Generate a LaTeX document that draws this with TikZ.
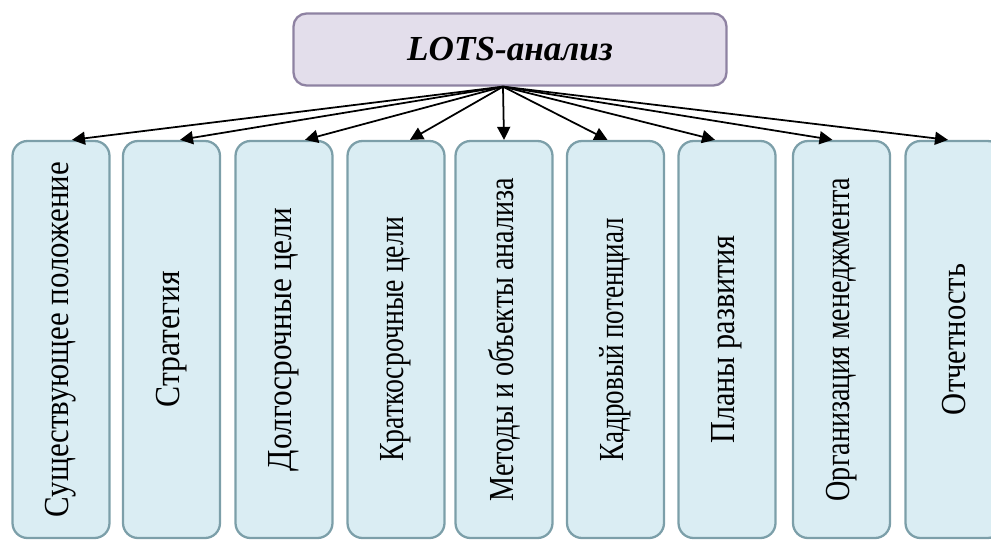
\documentclass[tikz,border=0pt]{standalone}
\usepackage{fontspec}
\setmainfont{Liberation Serif}
\usepackage{tikz}
\usetikzlibrary{positioning,arrows.meta}

\definecolor{rootfill}{HTML}{E3DEEB}
\definecolor{rootline}{HTML}{8E82A2}
\definecolor{partfill}{HTML}{DAEDF3}
\definecolor{partline}{HTML}{7C9FA9}

% condensed caption along the reading direction
\newcommand{\cond}[2]{\scalebox{#1}[1]{#2}}

\begin{document}
\begin{tikzpicture}[
        every node/.style={draw, line width=1.3pt, inner sep=0pt},
        root/.style={fill=rootfill, draw=rootline, rounded corners=0.26cm,
          minimum width=8.66cm, minimum height=1.44cm,
          font=\fontsize{20}{24}\selectfont\bfseries\itshape},
        part/.style={fill=partfill, draw=partline, rounded corners=0.3cm,
          rotate=90, minimum width=7.94cm, minimum height=1.94cm,
          font=\fontsize{20}{24}\selectfont},
        arrow/.style={-{Triangle[length=0.26cm, width=0.26cm]}, line width=1pt}]

  \useasboundingbox (0,0) rectangle (19.82,-10.82);

  %%% Root of the scheme
  \node[root] (lots) at (10.2,-0.99) {LOTS-анализ};

  %%% Components, one rotated box each (east anchor = top edge)
  \node[part] (state)   at (1.22,-6.79)  {\cond{0.88}{Существующее положение}};
  \node[part] (strat)   at (3.43,-6.79)  {\cond{0.9}{Стратегия}};
  \node[part] (longg)   at (5.68,-6.79)  {\cond{0.89}{Долгосрочные цели}};
  \node[part] (shortg)  at (7.92,-6.79)  {\cond{0.79}{Краткосрочные цели}};
  \node[part] (methods) at (10.08,-6.79) {\cond{0.8}{Методы и объекты анализа}};
  \node[part] (staff)   at (12.31,-6.79) {\cond{0.77}{Кадровый потенциал}};
  \node[part] (plans)   at (14.54,-6.79) {\cond{0.86}{Планы развития}};
  \node[part] (manage)  at (16.83,-6.79) {\cond{0.8}{Организация менеджмента}};
  \node[part] (report)  at (19.08,-6.79) {\cond{0.87}{Отчетность}};

  %%% Arrows from the root to every component
  \draw[arrow] ([xshift=-0.14cm]lots.south) -- ([xshift=0.22cm]state.east);
  \draw[arrow] ([xshift=-0.14cm]lots.south) -- ([xshift=0.17cm]strat.east);
  \draw[arrow] ([xshift=-0.14cm]lots.south) -- ([xshift=0.42cm]longg.east);
  \draw[arrow] ([xshift=-0.14cm]lots.south) -- ([xshift=0.28cm]shortg.east);
  \draw[arrow] ([xshift=-0.14cm]lots.south) -- (methods.east);
  \draw[arrow] ([xshift=-0.14cm]lots.south) -- ([xshift=-0.16cm]staff.east);
  \draw[arrow] ([xshift=-0.14cm]lots.south) -- ([xshift=-0.24cm]plans.east);
  \draw[arrow] ([xshift=-0.14cm]lots.south) -- ([xshift=-0.18cm]manage.east);
  \draw[arrow] ([xshift=-0.14cm]lots.south) -- ([xshift=-0.12cm]report.east);
\end{tikzpicture}
\end{document}
